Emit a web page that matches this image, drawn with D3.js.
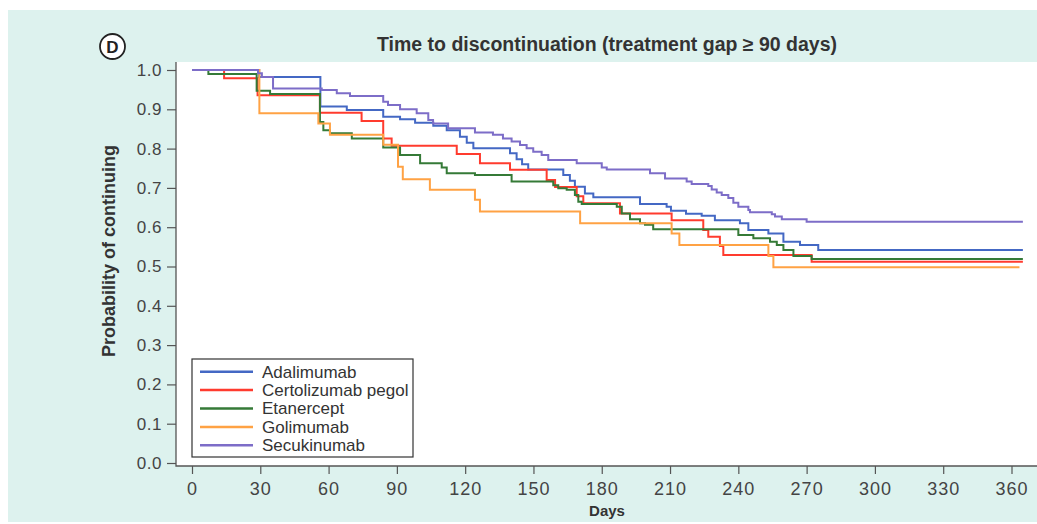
<!DOCTYPE html>
<html>
<head>
<meta charset="utf-8">
<script src="https://cdn.jsdelivr.net/npm/d3@7"></script>
<style>
  body { margin: 0; background: #fff; }
  svg { display: block; font-family: "Liberation Sans", Arial, Helvetica, sans-serif; }
</style>
</head>
<body>
<svg id="km-chart" width="1037" height="524"></svg>
<script>
// Kaplan-Meier steps: [day, probability from that day on]
const adalimumab = [
  [0, 1.0], [29.5, 0.982], [56.4, 0.907], [68.0, 0.898], [84.0, 0.881], [91.4, 0.875],
  [98.0, 0.866], [106.0, 0.858], [111.9, 0.847], [117.7, 0.830], [120.7, 0.815],
  [123.6, 0.801], [139.7, 0.788], [142.6, 0.773], [145.0, 0.760], [147.7, 0.747],
  [163.1, 0.733], [166.0, 0.718], [168.2, 0.703], [172.6, 0.686], [176.3, 0.676],
  [196.8, 0.659], [208.5, 0.652], [210.4, 0.642], [217.0, 0.634], [223.9, 0.629],
  [229.7, 0.618], [240.7, 0.610], [244.4, 0.593], [253.2, 0.584], [259.8, 0.563],
  [267.1, 0.555], [275.1, 0.542]
];
const certolizumab = [
  [0, 1.0], [14.1, 0.979], [28.8, 0.936], [56.2, 0.891], [74.5, 0.870], [84.0, 0.826],
  [87.7, 0.807], [116.3, 0.786], [126.5, 0.763], [139.7, 0.746], [155.8, 0.720],
  [159.5, 0.702], [169.0, 0.679], [171.9, 0.661], [188.0, 0.635], [210.7, 0.618],
  [224.6, 0.593], [226.8, 0.576], [231.9, 0.552], [233.4, 0.529], [272.2, 0.512]
];
const etanercept = [
  [0, 1.0], [7.2, 0.990], [28.4, 0.947], [34.3, 0.939], [56.2, 0.868], [57.7, 0.847],
  [60.6, 0.839], [70.2, 0.826], [84.0, 0.803], [91.4, 0.784], [100.2, 0.763],
  [109.7, 0.752], [111.9, 0.737], [124.3, 0.733], [140.4, 0.716], [158.7, 0.707],
  [160.9, 0.699], [164.6, 0.695], [168.2, 0.682], [169.7, 0.665], [171.2, 0.659],
  [186.6, 0.652], [188.8, 0.635], [192.4, 0.620], [196.8, 0.610], [199.0, 0.606],
  [202.6, 0.595], [240.0, 0.580], [246.6, 0.572], [253.9, 0.563], [256.9, 0.555],
  [259.8, 0.542], [264.2, 0.527], [272.2, 0.519]
];
const golimumab = [
  [0, 1.0], [29.6, 0.890], [55.5, 0.864], [60.6, 0.835], [84.0, 0.810], [90.5, 0.754],
  [92.6, 0.722], [104.5, 0.695], [124.3, 0.670], [126.5, 0.640], [170.5, 0.610],
  [210.7, 0.584], [214.1, 0.555], [253.2, 0.527], [255.4, 0.498]
];
const secukinumab = [
  [0, 1.0], [29.0, 0.992], [30.7, 0.982], [35.6, 0.953], [57.0, 0.949], [63.6, 0.941],
  [69.4, 0.934], [84.0, 0.919], [86.1, 0.911], [91.4, 0.900], [98.7, 0.890],
  [103.8, 0.873], [105.9, 0.864], [112.5, 0.852], [124.3, 0.841], [132.2, 0.835],
  [136.6, 0.826], [140.4, 0.818], [144.1, 0.809], [147.0, 0.801], [149.9, 0.792],
  [153.6, 0.784], [156.5, 0.771], [169.0, 0.763], [180.0, 0.752], [182.2, 0.747],
  [201.2, 0.737], [207.8, 0.724], [217.3, 0.716], [219.5, 0.710], [226.8, 0.705],
  [228.3, 0.696], [230.5, 0.688], [232.7, 0.682], [235.6, 0.674], [237.8, 0.662],
  [240.0, 0.652], [244.4, 0.644], [245.1, 0.638], [254.7, 0.633], [256.1, 0.627],
  [259.1, 0.620], [270.0, 0.614]
];
const followUpEnd = [365, 365, 365, 363.5, 365];

const seriesNames = ["Adalimumab", "Certolizumab pegol", "Etanercept", "Golimumab", "Secukinumab"];
const seriesColors = ["#4468c4", "#ff3b2e", "#357a37", "#ffa244", "#7d6dc8"];
const seriesSteps = [adalimumab, certolizumab, etanercept, golimumab, secukinumab];

const xTicks = [0, 30, 60, 90, 120, 150, 180, 210, 240, 270, 300, 330, 360];
const yTicks = [0, 0.1, 0.2, 0.3, 0.4, 0.5, 0.6, 0.7, 0.8, 0.9, 1.0];

const chartTitle = "Time to discontinuation (treatment gap \u2265 90 days)";
const panelLetter = "D";
const xLabel = "Days";
const yLabel = "Probability of continuing";

const svg = d3.select("#km-chart");
const width = +svg.attr("width");

const panel = { left: 8, top: 10, bottom: 522 };
const plot = { left: 176, top: 62, right: width, bottom: 466 };

const x = d3.scaleLinear().domain([0, 360]).range([192, 1011.5]);
const y = d3.scaleLinear().domain([0, 1]).range([463, 70]);

// backgrounds
svg.append("rect")
  .attr("x", panel.left).attr("y", panel.top)
  .attr("width", width - panel.left).attr("height", panel.bottom - panel.top)
  .attr("fill", "#ddf2ee");

svg.append("rect")
  .attr("x", plot.left).attr("y", plot.top)
  .attr("width", plot.right - plot.left).attr("height", plot.bottom - plot.top)
  .attr("fill", "#fff");

// title and panel letter
svg.append("text")
  .attr("x", 607).attr("y", 51)
  .attr("text-anchor", "middle")
  .attr("font-size", 19.5).attr("font-weight", "bold")
  .attr("fill", "#333")
  .text(chartTitle);

const badge = svg.append("g").attr("transform", "translate(112.5,46.5)");
badge.append("circle").attr("r", 12.5).attr("fill", "#fff").attr("stroke", "#222").attr("stroke-width", 1.8);
badge.append("text")
  .attr("text-anchor", "middle").attr("dy", "0.36em")
  .attr("font-size", 17).attr("font-weight", "bold").attr("fill", "#222")
  .text(panelLetter);

// axes
const yAxis = svg.append("g")
  .attr("transform", `translate(${plot.left},0)`)
  .call(d3.axisLeft(y).tickValues(yTicks).tickFormat(d3.format(".1f")).tickSize(9).tickPadding(5))
  .call(g => g.select(".domain").remove());

const xAxis = svg.append("g")
  .attr("transform", `translate(0,${plot.bottom})`)
  .call(d3.axisBottom(x).tickValues(xTicks).tickSize(8).tickPadding(8))
  .call(g => g.select(".domain").remove());

[yAxis, xAxis].forEach(g => {
  g.selectAll(".tick line").attr("stroke", "#555").attr("stroke-width", 1.2);
  g.selectAll(".tick text").attr("fill", "#444").attr("font-family", null);
});
yAxis.selectAll(".tick text").attr("font-size", 17).attr("letter-spacing", 0.5);
xAxis.selectAll(".tick text").attr("font-size", 18).attr("letter-spacing", 1);

// frame lines
svg.append("path")
  .attr("d", `M${plot.left},${plot.top}V${plot.bottom}H${plot.right}`)
  .attr("fill", "none").attr("stroke", "#555").attr("stroke-width", 1.3);

svg.append("text")
  .attr("x", 607).attr("y", 516)
  .attr("text-anchor", "middle")
  .attr("font-size", 15).attr("font-weight", "bold").attr("fill", "#333")
  .text(xLabel);

svg.append("text")
  .attr("transform", "translate(115,251) rotate(-90)")
  .attr("text-anchor", "middle")
  .attr("font-size", 18).attr("font-weight", "bold").attr("fill", "#333")
  .text(yLabel);

// survival curves
const stepLine = d3.line()
  .x(d => x(d[0]))
  .y(d => y(d[1]))
  .curve(d3.curveStepAfter);

const series = seriesNames.map((name, i) => {
  const steps = seriesSteps[i];
  const last = steps[steps.length - 1];
  return { name, color: seriesColors[i], points: steps.concat([[followUpEnd[i], last[1]]]) };
});

svg.append("g")
  .selectAll("path")
  .data(series)
  .join("path")
  .attr("d", d => stepLine(d.points))
  .attr("fill", "none")
  .attr("stroke", d => d.color)
  .attr("stroke-width", 2);

// legend
const legend = svg.append("g").attr("transform", "translate(192,359)");
legend.append("rect")
  .attr("width", 221).attr("height", 98)
  .attr("fill", "#fff").attr("stroke", "#333").attr("stroke-width", 1.2);

const item = legend.selectAll("g.item")
  .data(series)
  .join("g")
  .attr("class", "item")
  .attr("transform", (d, i) => `translate(0,${12.7 + i * 18.4})`);

item.append("line")
  .attr("x1", 8).attr("x2", 61)
  .attr("stroke", d => d.color).attr("stroke-width", 2.5);

item.append("text")
  .attr("x", 70).attr("dy", "0.35em")
  .attr("font-size", 17).attr("fill", "#333")
  .text(d => d.name);
</script>
</body>
</html>
